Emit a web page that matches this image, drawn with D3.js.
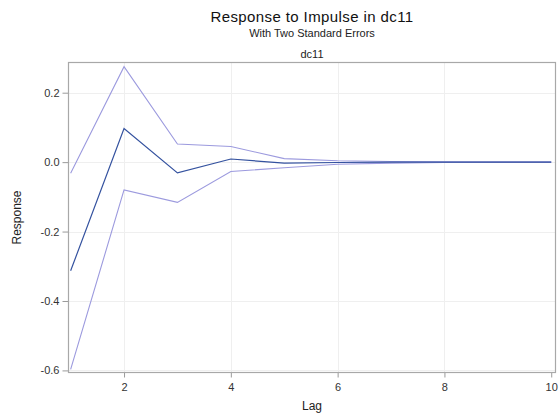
<!DOCTYPE html>
<html>
<head>
  <meta charset="utf-8">
  <title>Response to Impulse in dc11</title>
  <script src="https://cdn.jsdelivr.net/npm/d3@7"></script>
  <style>
    html, body {
      margin: 0;
      background: #fff;
      font-family: "Liberation Sans", Arial, sans-serif;
    }

    .grid line {
      stroke: #efefef;
      stroke-width: 1px;
    }

    .axis path, .axis line {
      stroke: #9a9a9a;
    }

    .axis text {
      fill: #333;
      font-size: 11px;
      font-family: "Liberation Sans", Arial, sans-serif;
    }
  </style>
</head>
<body>
  <div id="chart"></div>

  <script>
  // impulse response of dc11 with two standard error bands
  var lags = [1, 2, 3, 4, 5, 6, 7, 8, 9, 10];
  var response = [-0.313, 0.097, -0.031, 0.009, -0.003, -0.001, 0.000, 0.000, 0.000, 0.000];
  var upper = [-0.032, 0.275, 0.052, 0.045, 0.010, 0.004, 0.002, 0.001, 0.000, 0.000];
  var lower = [-0.597, -0.080, -0.116, -0.027, -0.016, -0.006, -0.003, -0.001, 0.000, 0.000];

  var xTicks = [2, 4, 6, 8, 10];
  var yTicks = [-0.6, -0.4, -0.2, 0.0, 0.2];

  var width = 560,
      height = 415,
      frame = { left: 68.5, right: 555.5, top: 62.5, bottom: 372.5 };

  var svg = d3.select("#chart").append("svg")
      .attr("width", width)
      .attr("height", height);

  var x = d3.scaleLinear()
      .domain([0.96, 10.08])
      .range([frame.left, frame.right]);

  var y = d3.scaleLinear()
      .domain([-0.606, 0.287])
      .range([frame.bottom, frame.top]);

  // grid
  var grid = svg.append("g").attr("class", "grid");
  grid.selectAll(".gx")
      .data(xTicks.filter(function(d) { return d < 10; }))
    .enter().append("line")
      .attr("x1", function(d) { return Math.round(x(d)) + 0.5; })
      .attr("x2", function(d) { return Math.round(x(d)) + 0.5; })
      .attr("y1", frame.top)
      .attr("y2", frame.bottom);
  grid.selectAll(".gy")
      .data(yTicks)
    .enter().append("line")
      .attr("x1", frame.left)
      .attr("x2", frame.right)
      .attr("y1", function(d) { return Math.round(y(d)) + 0.5; })
      .attr("y2", function(d) { return Math.round(y(d)) + 0.5; });

  // axes
  var xAxis = d3.axisBottom(x)
      .tickValues(xTicks)
      .tickSize(5)
      .tickPadding(6)
      .tickFormat(d3.format("d"));

  var yAxis = d3.axisLeft(y)
      .tickValues(yTicks)
      .tickSize(6)
      .tickPadding(3)
      .tickFormat(function(d) { return d.toFixed(1); });

  svg.append("g")
      .attr("class", "axis")
      .attr("transform", "translate(0," + frame.bottom + ")")
      .call(xAxis)
      .call(function(g) { g.select(".domain").remove(); });

  svg.append("g")
      .attr("class", "axis")
      .attr("transform", "translate(" + frame.left + ",0)")
      .call(yAxis)
      .call(function(g) { g.select(".domain").remove(); });

  // frame
  svg.append("rect")
      .attr("x", frame.left)
      .attr("y", frame.top)
      .attr("width", frame.right - frame.left)
      .attr("height", frame.bottom - frame.top)
      .attr("fill", "none")
      .attr("stroke", "#a8a8a8")
      .attr("stroke-width", 1.2);

  // lines
  var line = d3.line()
      .x(function(d, i) { return x(lags[i]); })
      .y(function(d) { return y(d); });

  [[upper, "#9c9ade", 1.1], [lower, "#9c9ade", 1.1], [response, "#34529f", 1.2]].forEach(function(s) {
    svg.append("path")
        .datum(s[0])
        .attr("fill", "none")
        .attr("stroke", s[1])
        .attr("stroke-width", s[2])
        .attr("d", line);
  });

  // titles
  var cx = (frame.left + frame.right) / 2;

  svg.append("text")
      .attr("x", cx)
      .attr("y", 22)
      .attr("text-anchor", "middle")
      .style("font-size", "15px")
      .style("letter-spacing", "0.4px")
      .style("fill", "#111")
      .text("Response to Impulse in dc11");

  svg.append("text")
      .attr("x", cx)
      .attr("y", 37)
      .attr("text-anchor", "middle")
      .style("font-size", "11px")
      .style("fill", "#222")
      .text("With Two Standard Errors");

  svg.append("text")
      .attr("x", cx)
      .attr("y", 58)
      .attr("text-anchor", "middle")
      .style("font-size", "11px")
      .style("fill", "#222")
      .text("dc11");

  svg.append("text")
      .attr("x", cx)
      .attr("y", 410)
      .attr("text-anchor", "middle")
      .style("font-size", "12px")
      .style("fill", "#222")
      .text("Lag");

  svg.append("text")
      .attr("transform", "translate(21," + (frame.top + frame.bottom) / 2 + ") rotate(-90)")
      .attr("text-anchor", "middle")
      .style("font-size", "12px")
      .style("fill", "#222")
      .text("Response");
  </script>
</body>
</html>
